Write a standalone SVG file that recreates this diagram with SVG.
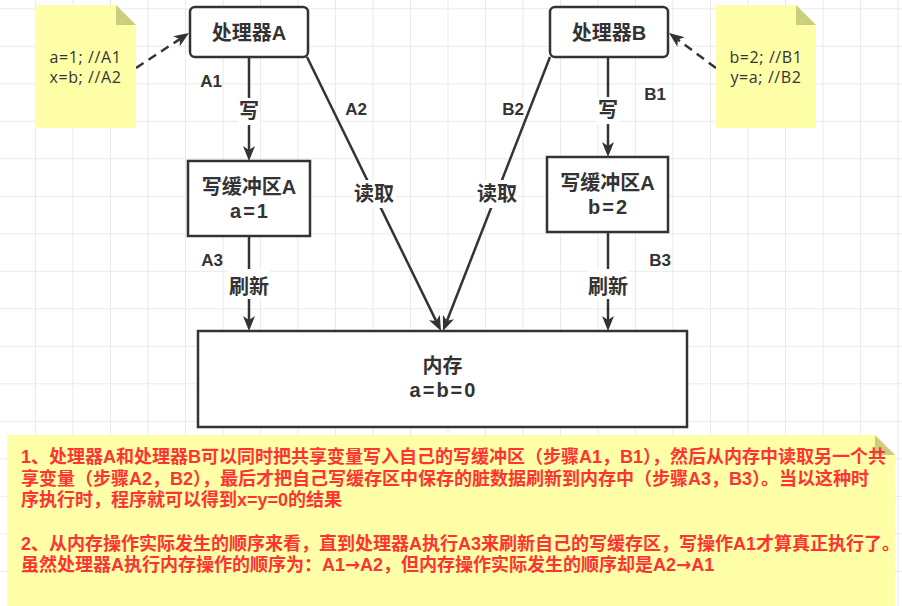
<svg xmlns="http://www.w3.org/2000/svg" width="902" height="606" viewBox="0 0 902 606">
<style>
.box{fill:#fff;stroke:#333;stroke-width:2.5}
.edge{fill:none;stroke:#333;stroke-width:2.5}
.dash{fill:none;stroke:#333;stroke-width:2.5;stroke-dasharray:9 6}
.title{font-family:"Liberation Sans","Noto Sans CJK SC",sans-serif;font-weight:bold;font-size:20px;fill:#333;text-anchor:middle}
.eq{letter-spacing:2px}
.lbl{font-family:"Liberation Sans","Noto Sans CJK SC",sans-serif;font-weight:bold;font-size:17px;fill:#333;text-anchor:middle}
.elbl{font-family:"Liberation Sans","Noto Sans CJK SC",sans-serif;font-weight:bold;font-size:20px;fill:#333;text-anchor:middle}
.note{fill:#ffffa8}
.fold{fill:#cdcd7e}
.ntxt{font-family:"Open Sans","Noto Sans CJK SC",sans-serif;font-size:16px;fill:#333;text-anchor:middle;letter-spacing:0.6px}
.red{font-family:"Liberation Sans","Noto Sans CJK SC",sans-serif;font-weight:bold;font-size:18px;fill:#ff3333}
.ar{font-family:"DejaVu Sans",sans-serif}
.bg{fill:#fff}
</style>
<defs>
<pattern id="grid" patternUnits="userSpaceOnUse" x="35" y="8.3" width="37.5" height="37.5">
<path d="M0,0.5 H37.5 M0.5,0 V37.5" stroke="#e9e9e9" stroke-width="1" fill="none"/>
</pattern>
<marker id="arr" markerUnits="userSpaceOnUse" markerWidth="16" markerHeight="12" viewBox="0 0 16 12" refX="4" refY="6" orient="auto">
<path d="M0,0 L15,6 L0,12 L4,6 Z" fill="#333"/>
</marker>
</defs>
<rect width="902" height="606" fill="#fff"/>
<rect width="902" height="606" fill="url(#grid)"/>

<g id="connectors">
<path class="dash" d="M136,68 L179.8,39.1" marker-end="url(#arr)"/>
<path class="dash" d="M716,68 L677.8,39.6" marker-end="url(#arr)"/>
<path class="edge" d="M249,57 V150" marker-end="url(#arr)"/>
<path class="edge" d="M608,57 V146" marker-end="url(#arr)"/>
<path class="edge" d="M307,57 L436.2,321.1" marker-end="url(#arr)"/>
<path class="edge" d="M550,57 L447,320.8" marker-end="url(#arr)"/>
<path class="edge" d="M249,236 V320" marker-end="url(#arr)"/>
<path class="edge" d="M608,232 V320" marker-end="url(#arr)"/>
<rect class="bg" x="238" y="98" width="22" height="27"/>
<text class="elbl" x="249" y="118">写</text>
<rect class="bg" x="597" y="97" width="22" height="27"/>
<text class="elbl" x="608" y="117">写</text>
<rect class="bg" x="353" y="180" width="42" height="28"/>
<text class="elbl" x="374" y="201">读取</text>
<rect class="bg" x="476" y="180" width="42" height="28"/>
<text class="elbl" x="497" y="201">读取</text>
<rect class="bg" x="228" y="269" width="42" height="30"/>
<text class="elbl" x="249" y="294">刷新</text>
<rect class="bg" x="587" y="269" width="42" height="30"/>
<text class="elbl" x="608" y="294">刷新</text>
<text class="lbl" x="211" y="87">A1</text>
<text class="lbl" x="356" y="115">A2</text>
<text class="lbl" x="513" y="115">B2</text>
<text class="lbl" x="655" y="100">B1</text>
<text class="lbl" x="212" y="266">A3</text>
<text class="lbl" x="660" y="266">B3</text>
</g>

<g id="noteA">
<path class="note" d="M35,5 H116 L136,25 V128 H35 Z"/>
<path class="fold" d="M116,5 V25 H136 Z"/>
<text class="ntxt" x="85.5" y="63">a=1; //A1</text>
<text class="ntxt" x="85.5" y="83">x=b; //A2</text>
</g>

<g id="noteB">
<path class="note" d="M716,5 H796 L816,25 V128 H716 Z"/>
<path class="fold" d="M796,5 V25 H816 Z"/>
<text class="ntxt" x="766" y="63">b=2; //B1</text>
<text class="ntxt" x="766" y="83">y=a; //B2</text>
</g>

<g id="procA">
<rect class="box" x="190" y="7" width="118" height="50" rx="5"/>
<text class="title" x="249" y="40">处理器A</text>
</g>

<g id="procB">
<rect class="box" x="550" y="7" width="118" height="50" rx="5"/>
<text class="title" x="609" y="40">处理器B</text>
</g>

<g id="bufA">
<rect class="box" x="188" y="161" width="122" height="75"/>
<text class="title" x="249" y="194">写缓冲区A</text>
<text class="title eq" x="250" y="218">a=1</text>
</g>

<g id="bufB">
<rect class="box" x="547" y="157" width="121" height="75"/>
<text class="title" x="607.5" y="190">写缓冲区A</text>
<text class="title eq" x="608.5" y="214">b=2</text>
</g>

<g id="memory">
<rect class="box" x="198" y="331" width="489" height="96"/>
<text class="title" x="442.5" y="373">内存</text>
<text class="title eq" x="443.5" y="397">a=b=0</text>
</g>

<g id="noteBottom">
<path class="note" d="M7,435 H875 L895,455 V606 H7 Z"/>
<path class="fold" d="M875,435 V455 H895 Z"/>
<text class="red" x="21" y="463">1、处理器A和处理器B可以同时把共享变量写入自己的写缓冲区（步骤A1，B1），然后从内存中读取另一个共</text>
<text class="red" x="21" y="485">享变量（步骤A2，B2），最后才把自己写缓存区中保存的脏数据刷新到内存中（步骤A3，B3）。当以这种时</text>
<text class="red" x="21" y="506">序执行时，程序就可以得到x=y=0的结果</text>
<text class="red" x="21" y="550">2、从内存操作实际发生的顺序来看，直到处理器A执行A3来刷新自己的写缓存区，写操作A1才算真正执行了。</text>
<text class="red" x="21" y="571">虽然处理器A执行内存操作的顺序为：A1<tspan class="ar">→</tspan>A2，但内存操作实际发生的顺序却是A2<tspan class="ar">→</tspan>A1</text>
</g>
</svg>
